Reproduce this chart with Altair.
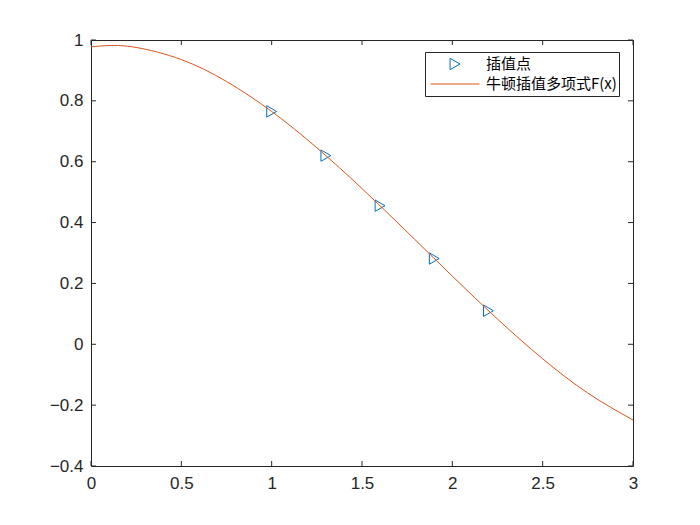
import altair as alt
import pandas as pd

# interpolation nodes
node_x = [1.0, 1.3, 1.6, 1.9, 2.2]
node_y = [0.7652, 0.6201, 0.4554, 0.2818, 0.1104]

# Newton interpolating polynomial curve samples
curve_x = [0.0, 0.1, 0.25, 0.5, 0.75, 1.0, 1.25, 1.5, 1.75, 2.0, 2.25, 2.5, 2.75, 3.0]
curve_y = [0.9777, 0.9817, 0.9755, 0.9357, 0.8637, 0.7652, 0.6459, 0.5118, 0.3690,
           0.2239, 0.0828, -0.0476, -0.1604, -0.2488]

x_ticks = [0, 0.5, 1, 1.5, 2, 2.5, 3]
y_ticks = [-0.4, -0.2, 0, 0.2, 0.4, 0.6, 0.8, 1]

series_names = ["插值点", "牛顿插值多项式F(x)"]
series_colors = ["#0072BD", "#D95319"]
series_shapes = ["triangle-right", "stroke"]
series_sizes = [130, 2401]

W, H = 542, 426
TXT = "#262626"

pts = pd.DataFrame({"x": node_x, "y": node_y, "s": series_names[0]})
crv = pd.DataFrame({"x": curve_x, "y": curve_y, "s": series_names[1]})
xt = pd.DataFrame({"v": x_ticks})
yt = pd.DataFrame({"v": y_ticks})

xscale = alt.Scale(domain=[0, 3], nice=False, zero=False)
yscale = alt.Scale(domain=[-0.4, 1], nice=False, zero=False)

xaxis = alt.Axis(values=x_ticks, title=None, grid=False, domain=False, tickSize=0,
                 labelPadding=9, labelFont="Liberation Sans", labelFontSize=17,
                 labelColor=TXT, labelFlush=False,
                 labelExpr="format(datum.value, '')")
yaxis = alt.Axis(values=y_ticks, title=None, grid=False, domain=False, tickSize=0,
                 labelPadding=8, labelFont="Liberation Sans", labelFontSize=17,
                 labelColor=TXT, labelFlush=False,
                 labelExpr="format(datum.value, '')")

legend = alt.Legend(title=None, orient="none", legendX=334, legendY=12,
                    fillColor="white", strokeColor=TXT, padding=2,
                    clipHeight=20, rowPadding=0, symbolOffset=3,
                    labelFont="Noto Sans CJK SC", labelFontSize=15, labelColor="black",
                    labelOffset=6, symbolStrokeWidth=1, labelLimit=400)

color = alt.Color("s:N", scale=alt.Scale(domain=series_names, range=series_colors), legend=legend)
shape = alt.Shape("s:N", scale=alt.Scale(domain=series_names, range=series_shapes), legend=legend)
size = alt.Size("s:N", scale=alt.Scale(domain=series_names, range=series_sizes), legend=legend)

points = alt.Chart(pts).mark_point(filled=False, strokeWidth=1, opacity=1).encode(
    x=alt.X("x:Q", scale=xscale, axis=xaxis),
    y=alt.Y("y:Q", scale=yscale, axis=yaxis),
    color=color, shape=shape, size=size,
)

line = alt.Chart(crv).mark_line(strokeWidth=1, interpolate="natural").encode(
    x=alt.X("x:Q", scale=xscale),
    y=alt.Y("y:Q", scale=yscale),
    color=color,
)

tick_len = 5
bx = alt.Chart(xt).mark_rule(color=TXT, strokeWidth=1).encode(
    x=alt.X("v:Q", scale=xscale), y=alt.value(H), y2=alt.value(H - tick_len))
tx = alt.Chart(xt).mark_rule(color=TXT, strokeWidth=1).encode(
    x=alt.X("v:Q", scale=xscale), y=alt.value(0), y2=alt.value(tick_len))
ly = alt.Chart(yt).mark_rule(color=TXT, strokeWidth=1).encode(
    y=alt.Y("v:Q", scale=yscale), x=alt.value(0), x2=alt.value(tick_len))
ry = alt.Chart(yt).mark_rule(color=TXT, strokeWidth=1).encode(
    y=alt.Y("v:Q", scale=yscale), x=alt.value(W), x2=alt.value(W - tick_len))

chart = alt.layer(points, line, bx, tx, ly, ry).properties(
    width=W, height=H,
    autosize=alt.AutoSizeParams(type="none"),
    padding={"left": 83, "top": 32, "right": 59, "bottom": 51},
    background="white",
).configure_view(stroke=TXT, strokeWidth=1)

chart.save("out.html", embed_options={"renderer": "svg", "actions": False})
